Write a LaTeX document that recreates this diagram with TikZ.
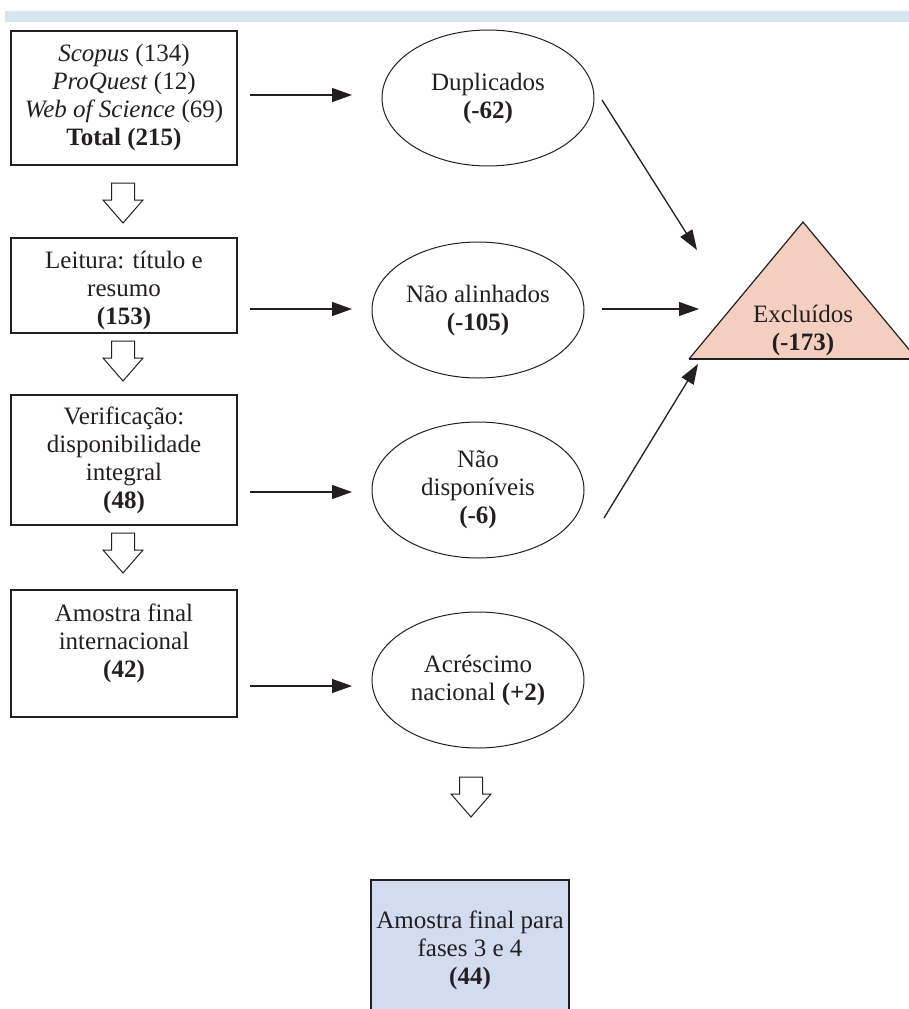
\documentclass[tikz,border=0pt]{standalone}
\usepackage{fontspec}
\setmainfont{Liberation Serif}
\usetikzlibrary{arrows.meta,shapes.geometric}
\definecolor{ink}{HTML}{231F20}
\definecolor{barblue}{HTML}{D7E6EE}
\definecolor{salmon}{HTML}{F4CFC0}
\definecolor{lav}{HTML}{D3DBEF}
\tikzset{
  txt/.style={font=\fontsize{25}{28}\selectfont, text=ink, align=center, inner sep=0pt},
  box/.style={draw=ink, line width=1.3pt, minimum width=226pt, inner sep=0pt},
  oval/.style={txt, ellipse, draw=ink, line width=1pt, minimum width=212pt, minimum height=136pt, inner sep=0pt},
  conn/.style={-{Triangle[length=20pt,width=14pt]}, line width=1.3pt, draw=ink},
  barrow/.pic={\draw[draw=ink, line width=1pt, fill=white] (-11.5,0) -- (11.5,0) -- (11.5,17) -- (20,17) -- (0,40) -- (-20,17) -- (-11.5,17) -- cycle;}
}
\begin{document}
\begin{tikzpicture}[x=1pt,y=-1pt]
\useasboundingbox (0,0) rectangle (909,1009);
% top bar
\fill[barblue] (5,11) rectangle (909,22);

% left boxes
\node[box, minimum height=134pt] (b1) at (124,98) {};
\node[txt] (b1t) at (124,97) {\textit{Scopus} (134)\\\textit{ProQuest} (12)\\\textit{Web of Science} (69)\\\textbf{Total (215)}};
\node[box, minimum height=95pt] (b2) at (124,285.5) {};
\node[txt] (b2t) at (124,290) {Leitura: título e\\resumo\\\textbf{(153)}};
\node[box, minimum height=130pt] (b3) at (124,460) {};
\node[txt] (b3t) at (124,460) {Verificação:\\disponibilidade\\integral\\\textbf{(48)}};
\node[box, minimum height=127pt] (b4) at (124,653.5) {};
\node[txt] (b4t) at (124,643) {Amostra final\\internacional\\\textbf{(42)}};

% block arrows
\pic (ba1) at (123,183) {barrow};
\pic (ba2) at (123,341) {barrow};
\pic (ba3) at (123,533) {barrow};
\pic (ba4) at (471,777) {barrow};

% ellipses
\node[oval] (e1) at (488,98) {Duplicados\\\textbf{(-62)}};
\node[oval] (e2) at (478,310) {Não alinhados\\\textbf{(-105)}};
\node[oval] (e3) at (478,490) {Não\\disponíveis\\\textbf{(-6)}};
\node[oval] (e4) at (478,680) {Acréscimo\\nacional \textbf{(+2)}};

% final box
\node[box, fill=lav, minimum width=198pt, minimum height=140pt] (fin) at (470,950) {};
\node[txt] (fint) at (470,950) {Amostra final para\\fases 3 e 4\\\textbf{(44)}};

% triangle
\coordinate (tA) at (803,222);
\coordinate (tB) at (689,359);
\coordinate (tC) at (917,359);
\fill[salmon] (tA) -- (tB) -- (tC) -- cycle;
\draw[ink, line width=1.2pt] (tB) -- (tA) -- (tC);
\draw[ink, line width=1.2pt] (tB) -- (tC);
\node[txt] (tri) at (803,330) {Excluídos\\\textbf{(-173)}};

% connector end points
\coordinate (s1) at (250,95);  \coordinate (t1) at (352,95);
\coordinate (s2) at (250,309); \coordinate (t2) at (352,309);
\coordinate (s3) at (250,492); \coordinate (t3) at (352,492);
\coordinate (s4) at (250,686); \coordinate (t4) at (352,686);
\coordinate (u1) at (602,100); \coordinate (v1) at (697,250);
\coordinate (u2) at (602,309); \coordinate (v2) at (699,309);
\coordinate (u3) at (604,518); \coordinate (v3) at (698,364);

\draw[conn] (s1) -- (t1);
\draw[conn] (s2) -- (t2);
\draw[conn] (s3) -- (t3);
\draw[conn] (s4) -- (t4);
\draw[conn] (u1) -- (v1);
\draw[conn] (u2) -- (v2);
\draw[conn] (u3) -- (v3);
\end{tikzpicture}
\end{document}
